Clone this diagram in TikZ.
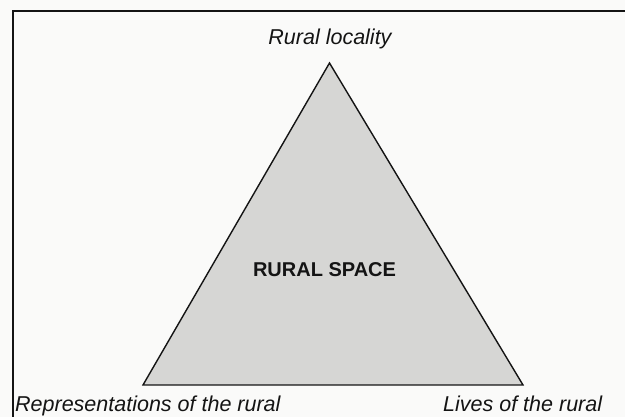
\documentclass[tikz,border=0pt]{standalone}
\usepackage{fontspec}
\setmainfont{Liberation Sans}
\definecolor{paper}{RGB}{250,250,249}
\definecolor{spacefill}{RGB}{214,214,212}
\definecolor{ink}{RGB}{20,20,20}
\begin{document}
\begin{tikzpicture}[x=1pt,y=-1pt,
  corner/.style={anchor=base,inner sep=0pt,text=ink,font=\fontsize{21.5}{24}\selectfont\itshape},
  centre/.style={anchor=base,inner sep=0pt,text=ink,font=\fontsize{20}{22}\selectfont\bfseries},
  frameline/.style={draw=ink,line width=2pt},
  spaceshape/.style={draw=ink,line width=1.4pt,fill=spacefill,line join=miter}]
  % page area
  \fill[paper] (0,0) rectangle (625,417);
  \useasboundingbox (0,0) rectangle (625,417);
  % open frame: top and left rules only
  \draw[frameline] (13,440) -- (13,11) -- (640,11);
  % the triangle of rural space
  \coordinate (top) at (329.5,63);
  \coordinate (left) at (143,385);
  \coordinate (right) at (523,385);
  \filldraw[spaceshape] (top) -- (left) -- (right) -- cycle;
  % labels
  \node[centre] (space) at (324.5,277) {RURAL SPACE};
  \node[corner] (locality) at (330,45) {Rural locality};
  \node[corner,anchor=base west] (repr) at (15,411) {Representations of the rural};
  \node[corner,anchor=base west] (lives) at (443,411) {Lives of the rural};
\end{tikzpicture}
\end{document}
